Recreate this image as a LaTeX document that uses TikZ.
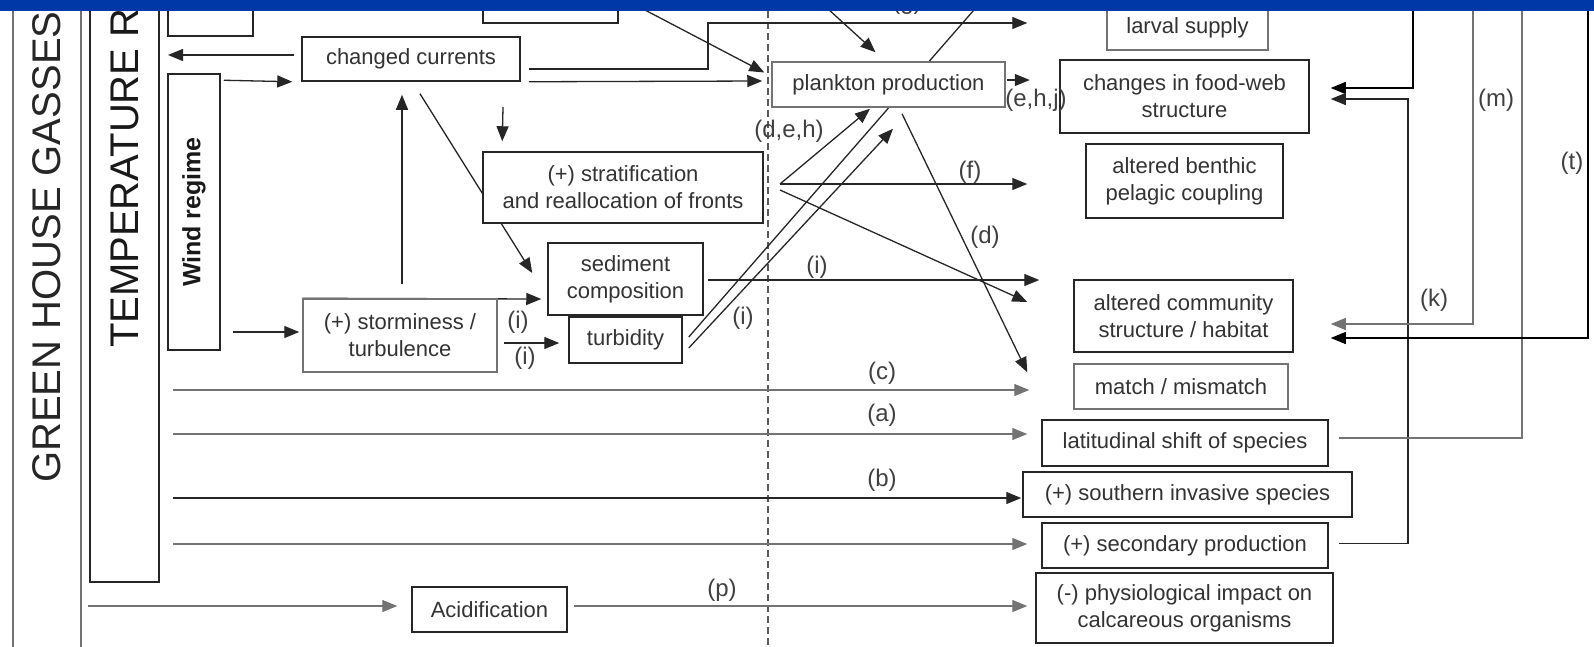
\documentclass[tikz,border=0pt]{standalone}
\usepackage{fontspec}
\setmainfont{Liberation Sans}
\usetikzlibrary{arrows.meta,calc}
\pgfdeclarelayer{bg}
\pgfsetlayers{bg,main}
\definecolor{bandblue}{RGB}{0,56,168}
\newcommand{\boxfont}{\fontsize{22}{27}\selectfont}
\newcommand{\lblfont}{\fontsize{24}{28}\selectfont}
\newcommand{\bigfont}{\fontsize{40}{44}\selectfont}
\newcommand{\windfont}{\fontsize{25}{28}\selectfont\bfseries}
\begin{document}
\begin{tikzpicture}[x=1pt,y=-1pt,
  box/.style={draw=black!85, line width=1.5pt, fill=white, text=black!80, align=center, inner sep=0pt, font=\boxfont},
  gbox/.style={box, draw=black!55},
  arr/.style={line width=1.3pt, draw=black!85, -{Triangle[length=15pt,width=12pt]}},
  garr/.style={arr, draw=black!55},
  ln/.style={line width=1.3pt, draw=black!85},
  gln/.style={ln, draw=black!55},
  lbl/.style={text=black!75, font=\lblfont, inner sep=0pt},
  wh/.style 2 args={minimum width=#1pt, minimum height=#2pt},
]
\clip (0,0) rectangle (1594,646);

% left frames
\node[gbox, fill=none, wh={68}{680}] (ghg) at (47,323) {};
\node[rotate=90, anchor=west, font=\bigfont, text=black!85, inner sep=0pt] (ghgtxt) at (47,483) {GREEN HOUSE GASSES};
\node[box, wh={69}{600}] (temp) at (124.5,282) {};
\node[rotate=90, anchor=west, font=\bigfont, text=black!90, inner sep=0pt] (temptxt) at (125,348) {TEMPERATURE R};
\node[box, wh={52}{276}] (wind) at (194,212) {};
\node[rotate=90, font=\windfont, text=black!90, inner sep=0pt] (windtxt) at (wind.center) {Wind regime};

% boxes
\node[box, wh={85}{56}] (tl) at (210.5,8) {};
\node[box, wh={135}{43}] (tc) at (550.5,1.5) {};
\node[box, wh={218}{44}] (cc) at (411,59) {changed currents};
\node[box, wh={280}{71}] (strat) at (623,187.5) {(+) stratification\\and reallocation of fronts};
\node[box, wh={155}{72}] (sed) at (625.5,279) {sediment\\composition};
\node[box, wh={113}{46}] (turb) at (625.5,340) {turbidity};
\node[gbox, wh={194}{73}] (storm) at (400,335.5) {(+) storminess /\\turbulence};
\node[gbox, wh={233}{45}] (plank) at (888.5,84.5) {plankton production};
\node[box, wh={155}{45}] (acid) at (489.5,609.5) {Acidification};
\node[gbox, wh={161}{44}] (larval) at (1187.5,28) {larval supply};
\node[box, wh={249}{73}] (food) at (1184.5,96.5) {changes in food-web\\structure};
\node[box, wh={197}{74}] (benth) at (1184.5,181) {altered benthic\\pelagic coupling};
\node[box, wh={219}{72}] (comm) at (1183.5,316) {altered community\\structure / habitat};
\node[gbox, wh={214}{45}] (match) at (1181,386.5) {match / mismatch};
\node[box, wh={286}{46}] (lat) at (1185,443) {latitudinal shift of species};
\node[box, wh={329}{45}] (south) at (1187.5,494.5) {(+) southern invasive species};
\node[box, wh={286}{45}] (second) at (1185,545.5) {(+) secondary production};
\node[box, wh={297}{70}] (physio) at (1184.5,608) {(-) physiological impact on\\calcareous organisms};

% free ends
\coordinate (tempR) at (168,55);
\coordinate (cL) at (173,390);
\coordinate (aL) at (173,434);
\coordinate (bL) at (173,498);
\coordinate (uL) at (173,544);
\coordinate (pL) at (88,606);
\coordinate (topG) at (987,-5);
\coordinate (topA) at (816,-2);
\coordinate (topF) at (1413,-5);
\coordinate (topK) at (1473,-5);
\coordinate (topM) at (1522,-5);
\coordinate (topT) at (1588,-5);
\coordinate (stratIn) at (503,107);
\coordinate (so) at (780,184);
\coordinate (so2) at (780,190);

\begin{pgfonlayer}{bg}
\fill[white] (0,0) rectangle (1594,646);
\draw[black!65, line width=1.1pt, dash pattern=on 7pt off 4pt] (768,0) -- (768,646);
\draw[arr] ($(cc.west)+(-7,-4)$) -- (tempR);
\draw[arr] ($(wind.north east)+(3,7)$) -- ($(cc.south west)+(-9,0)$);
\draw[arr] ($(wind.east)+(12,120)$) -- ($(storm.west)+(-3,-3.5)$);
\draw[arr] ($(cc.east)+(8,10)$) -| (708,23) -- ($(larval.west)+(-79,-5)$);
\draw[arr] ($(cc.south east)+(8,0)$) -- ($(plank.west)+(-9,-3.5)$);
\draw[arr] ($(tc.east)+(10,0)$) -- ($(plank.west)+(-7,-12)$);
\draw[arr] (topA) -- ($(plank.north)+(-13,-9)$);
\draw[ln] ($(turb.east)+(6,-3)$) -- (topG);
\draw[arr] ($(turb.east)+(6,8)$) -- ($(plank.south)+(4.5,21)$);
\draw[arr] (so) -- ($(plank.south)+(-18.5,1)$);
\draw[arr] (so) -- ($(benth.west)+(-58,3)$);
\draw[arr] (so2) -- ($(comm.west)+(-46,-14)$);
\draw[arr] ($(plank.east)+(1,-4.5)$) -- ($(plank.east)+(24,-4.5)$);
\draw[arr] ($(plank.south)+(13.5,6)$) -- ($(match.north west)+(-46,9)$);
\draw[arr] ($(sed.east)+(4,1)$) -- ($(comm.west)+(-34,-36)$);
\draw[arr] (storm.north west) -- ($(sed.west)+(-6,20)$);
\draw[arr] ($(storm.east)+(6,7.5)$) -- ($(turb.west)+(-9,3)$);
\draw[arr] ($(storm.north)+(2,-14)$) -- ($(cc.south)+(-9,13)$);
\draw[arr] (stratIn) -- ($(strat.north west)+(20,-10)$);
\draw[arr] ($(cc.south)+(9,12)$) -- ($(sed.west)+(-15,-6)$);
\draw[garr] (cL) -- ($(match.west)+(-44,3.5)$);
\draw[garr] (aL) -- ($(lat.west)+(-14,-9)$);
\draw[arr] (bL) -- ($(south.west)+(-1,3.5)$);
\draw[garr] (uL) -- ($(second.west)+(-14,-1.5)$);
\draw[garr] (pL) -- ($(acid.west)+(-14,-3.5)$);
\draw[garr] ($(acid.east)+(6,-3.5)$) -- ($(physio.west)+(-8,-2)$);
\draw[arr, draw=black] (topF) |- ($(food.east)+(21,-8.5)$);
\draw[arr] ($(second.east)+(10,-2)$) -| (1408,99) -- ($(food.east)+(21,2.5)$);
\draw[gln] ($(lat.east)+(10,-5)$) -| (topM);
\draw[garr] (topK) |- ($(comm.east)+(37,8)$);
\draw[arr, draw=black] (topT) |- ($(comm.east)+(37,22)$);
\end{pgfonlayer}

% labels
\node[lbl] (li1) at (518,322) {(i)};
\node[lbl] (li2) at (525,358) {(i)};
\node[lbl] (li3) at (743,318) {(i)};
\node[lbl] (li4) at (817,267) {(i)};
\node[lbl] (ldeh) at (789,131) {(d,e,h)};
\node[lbl] (lehj) at (1036,100) {(e,h,j)};
\node[lbl] (lf) at (970,172) {(f)};
\node[lbl] (ld) at (985,237) {(d)};
\node[lbl] (lc) at (882,373) {(c)};
\node[lbl] (la) at (882,415) {(a)};
\node[lbl] (lb) at (882,480) {(b)};
\node[lbl] (lp) at (722,590) {(p)};
\node[lbl] (lk) at (1434,300) {(k)};
\node[lbl] (lm) at (1496,100) {(m)};
\node[lbl] (lt) at (1572,163) {(t)};
\node[lbl] (lg) at (907,3) {(g)};

\fill[bandblue] (0,0) rectangle (1594,10.5);
\end{tikzpicture}
\end{document}
